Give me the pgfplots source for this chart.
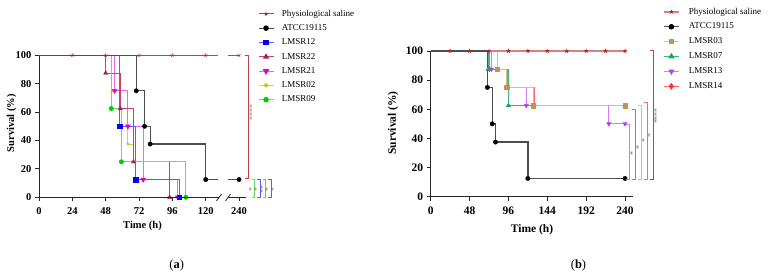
\documentclass[border=0pt]{standalone}
\usepackage{pgfplots}
\pgfplotsset{compat=1.18}
\usepackage{fontspec}
\setmainfont{Liberation Serif}
\definecolor{salAl}{HTML}{C44040}\definecolor{salAm}{HTML}{B22222}
\definecolor{atl}{HTML}{4D4D4D}\definecolor{atm}{HTML}{000000}
\definecolor{c12l}{HTML}{5C5CFF}\definecolor{c12m}{HTML}{0000FF}
\definecolor{c22l}{HTML}{C8407A}\definecolor{c22m}{HTML}{B0185A}
\definecolor{c21l}{HTML}{EE66EE}\definecolor{c21m}{HTML}{DD00DD}
\definecolor{c02l}{HTML}{D4D43C}\definecolor{c02m}{HTML}{C8C800}
\definecolor{c09l}{HTML}{66DD66}\definecolor{c09m}{HTML}{00CC00}
\definecolor{salBl}{HTML}{D88080}\definecolor{salBm}{HTML}{B22222}
\definecolor{c03l}{HTML}{E2B982}\definecolor{c03m}{HTML}{C89150}
\definecolor{c07l}{HTML}{3CB57C}\definecolor{c07m}{HTML}{1FA05F}
\definecolor{c13l}{HTML}{D07CFF}\definecolor{c13m}{HTML}{B040F0}
\definecolor{c14l}{HTML}{FF6666}\definecolor{c14m}{HTML}{FF3333}
\definecolor{stargray}{HTML}{707070}
\pgfplotsset{
  km/.style={scale only axis, clip=false, ymin=0, ymax=100, ytick={0,20,...,100},
    axis lines=left, axis line style={-, line width=0.9pt, black!85},
    tick align=outside, major tick length=4pt, tick style={line width=0.9pt, black!85},
    /pgf/number format/assume math mode=true,
    xticklabel style={yshift=-3pt},
    legend cell align=left,
    legend image code/.code={\draw[mark repeat=2,mark phase=2,##1] plot coordinates {(0pt,0pt) (7.5pt,0pt) (15pt,0pt)};},
  },
  cl/.style={const plot, no marks, line width=1.1pt, draw=#1, forget plot},
  mk/.style={only marks, color=#1, forget plot},
}
\begin{document}
\begin{tikzpicture}
\path[use as bounding box] (0,0) rectangle (774pt,-278pt);
% ---------------- panel (a)
\begin{axis}[km, at={(39pt,-197.3pt)}, anchor=south west, width=206.7pt, height=142pt,
  xmin=0, xmax=148.8, xtick={0,24,48,72,96,120,144}, xticklabels={0,24,48,72,96,120,240},
  x axis line style={draw=none},
  tick label style={font=\fontsize{10.5}{12}\selectfont\bfseries},
  legend style={at={(axis description cs:1.0595,1.3218)}, anchor=north west, draw=none, fill=none,
    inner sep=0pt, outer sep=0pt, row sep=5.8pt, font=\fontsize{9}{10}\selectfont,
    nodes={inner sep=0pt, text height=6.5pt, text depth=2pt},
    /tikz/every odd column/.append style={column sep=7.7pt}}]
\addlegendimage{salAl, line width=0.9pt, mark=star, mark options={salAm, mark size=2pt}}\addlegendentry{Physiological saline}
\addlegendimage{atl, line width=1.1pt, mark=*, mark options={draw=atm, fill=atm, mark size=2.2pt}}\addlegendentry{ATCC19115}
\addlegendimage{c12l, line width=1.1pt, mark=square*, mark options={draw=c12m, fill=c12m, mark size=2.2pt}}\addlegendentry{LMSR12}
\addlegendimage{c22l, line width=1.1pt, mark=triangle*, mark options={draw=c22m, fill=c22m, mark size=2.4pt}}\addlegendentry{LMSR22}
\addlegendimage{c21l, line width=1.1pt, mark=triangle*, mark options={draw=c21m, fill=c21m, mark size=2.8pt, rotate=180}}\addlegendentry{LMSR21}
\addlegendimage{c02l, line width=1.1pt, mark=star, mark options={c02m, mark size=2.2pt}}\addlegendentry{LMSR02}
\addlegendimage{c09l, line width=1.1pt, mark=*, mark options={draw=c09m, fill=c09m, mark size=2.2pt}}\addlegendentry{LMSR09}
% LMSR02
\addplot[cl=c02l] coordinates {(0,100) (52.5,75) (64,37.5) (68,25) (94,0)};
\addplot[mk=c02m, mark=star, mark size=2.2pt] coordinates {(52.5,75) (64,37.5) (68,25) (94,0)};
% LMSR21
\addplot[cl=c21l] coordinates {(0,100) (54.5,75) (64,50) (75,12.5) (100,0)};
\addplot[mk=c21m, mark=triangle*, mark size=2.8pt, mark options={rotate=180}] coordinates {(54.5,75) (64,50) (75,12.5) (100,0)};
% LMSR22
\addplot[cl=c22l] coordinates {(0,100) (48,87.5) (58.5,62.5) (68,25) (94,0)};
\addplot[mk=c22m, mark=triangle*, mark size=2.4pt] coordinates {(48,87.5) (58.5,62.5) (68,25) (94,0)};
% LMSR09
\addplot[cl=c09l] coordinates {(0,100) (52,62.5) (59.3,25) (105.7,0)};
\addplot[mk=c09m, mark=*, mark size=2.2pt] coordinates {(52,62.5) (59.3,25) (105.7,0)};
% LMSR12
\addplot[cl=c12l] coordinates {(0,100) (58,50) (69.5,12.5) (101,0)};
\addplot[mk=c12m, mark=square*, mark size=2.2pt] coordinates {(58,50) (69.5,12.5) (101,0)};
% saline
\addplot[salAl, line width=0.9pt, no marks, forget plot] coordinates {(0,100) (129.1,100)};
\addplot[salAl, line width=0.9pt, no marks, forget plot] coordinates {(136.3,100) (144,100)};
% ATCC
\addplot[cl=atl, line width=1.2pt] coordinates {(0,100) (70,75) (76,50) (80,37.5) (120,12.5) (129.1,12.5)};
\addplot[atl, line width=1.2pt, no marks, forget plot] coordinates {(136.3,12.5) (144,12.5)};
\addplot[mk=atm, mark=*, mark size=2.2pt] coordinates {(70,75) (76,50) (80,37.5) (120,12.5) (144,12.5)};
\addplot[mk=salAm, mark=star, mark size=2pt] coordinates {(24,100) (48,100) (72,100) (96,100) (120,100) (144,100)};
\end{axis}
% broken x axis (a)
\draw[line width=0.9pt, black!85] (39pt,-197.3pt) -- (219pt,-197.3pt);
\draw[line width=0.9pt, black!85] (228pt,-197.3pt) -- (245.7pt,-197.3pt);
\draw[line width=0.8pt, black!85] (216.5pt,-201pt) -- (221.5pt,-194pt);
\draw[line width=0.8pt, black!85] (225.5pt,-201pt) -- (230.5pt,-194pt);
% labels (a)
\node[rotate=90, font=\fontsize{10.5}{12}\selectfont\bfseries] at (11.7pt,-123.3pt) {Survival (\%)};
\node[font=\fontsize{10.5}{12}\selectfont\bfseries] at (142.5pt,-226pt) {Time (h)};
\node[font=\fontsize{12.5}{14}\selectfont] at (176.7pt,-265.5pt) {(\textbf{a})};
% brackets (a)
\draw[salAl, line width=0.8pt] (245pt,-55.3pt) -- (248.5pt,-55.3pt) -- (248.5pt,-178.5pt) -- (245pt,-178.5pt);
\node[rotate=90, text=stargray, font=\fontsize{8}{8}\selectfont, inner sep=0pt] at (252pt,-112pt) {****};
\draw[c09l, line width=0.8pt] (251.5pt,-179.5pt) -- (254.3pt,-179.5pt) -- (254.3pt,-197.5pt) -- (251.5pt,-197.5pt);
\draw[c12l, line width=0.8pt] (257.2pt,-179.5pt) -- (260pt,-179.5pt) -- (260pt,-197.5pt) -- (257.2pt,-197.5pt);
\draw[c21l, line width=0.8pt] (262.5pt,-179.5pt) -- (265.3pt,-179.5pt) -- (265.3pt,-197.5pt) -- (262.5pt,-197.5pt);
\draw[c22l, line width=0.8pt] (268.2pt,-179.5pt) -- (271pt,-179.5pt) -- (271pt,-197.5pt) -- (268.2pt,-197.5pt);
\foreach \sx in {251.5,256.8,267.8,273.5}{\node[rotate=90, text=stargray, font=\fontsize{8}{8}\selectfont, inner sep=0pt] at (\sx pt,-189pt) {*};}
\node[rotate=90, text=stargray, font=\fontsize{8}{8}\selectfont, inner sep=0pt] at (262.7pt,-189pt) {**};
% ---------------- panel (b)
\begin{axis}[km, at={(430.7pt,-196.7pt)}, anchor=south west, width=202pt, height=145.7pt,
  xmin=0, xmax=249.5, xtick={0,48,96,144,192,240},
  tick label style={font=\fontsize{11.5}{13}\selectfont\bfseries},
  legend style={at={(axis description cs:1.15,1.2979)}, anchor=north west, draw=none, fill=none,
    inner sep=0pt, outer sep=0pt, row sep=6.4pt, font=\fontsize{9}{10}\selectfont,
    nodes={inner sep=0pt, text height=6.5pt, text depth=2pt},
    /tikz/every odd column/.append style={column sep=9pt}}]
\addlegendimage{salBl, line width=1.8pt, mark=star, mark options={salBm, mark size=2pt, line width=0.8pt}}\addlegendentry{Physiological saline}
\addlegendimage{atl, line width=1.1pt, mark=*, mark options={draw=atm, fill=atm, mark size=2.2pt}}\addlegendentry{ATCC19115}
\addlegendimage{c03l, line width=1.1pt, mark=square*, mark options={draw=c03m, fill=c03m, mark size=2.2pt}}\addlegendentry{LMSR03}
\addlegendimage{c07l, line width=1.1pt, mark=triangle*, mark options={draw=c07m, fill=c07m, mark size=2.6pt}}\addlegendentry{LMSR07}
\addlegendimage{c13l, line width=1.1pt, mark=triangle*, mark options={draw=c13m, fill=c13m, mark size=2.4pt, rotate=180}}\addlegendentry{LMSR13}
\addlegendimage{c14l, line width=1.1pt, mark=diamond*, mark options={draw=c14m, fill=c14m, mark size=2.6pt}}\addlegendentry{LMSR14}
% LMSR14
\addplot[cl=c14l] coordinates {(0,100) (72.5,87.5) (95,75) (128,62.5) (240,62.5)};
\addplot[mk=c14m, mark=diamond*, mark size=2.6pt] coordinates {(72.5,87.5) (95,75) (128,62.5) (240,62.5)};
% LMSR13
\addplot[cl=c13l] coordinates {(0,100) (75,87.5) (94,75) (118,62.5) (220,50) (240,50)};
\addplot[mk=c13m, mark=triangle*, mark size=2.4pt, mark options={rotate=180}] coordinates {(75,87.5) (94,75) (118,62.5) (220,50) (240,50)};
% LMSR07
\addplot[cl=c07l] coordinates {(0,100) (71,87.5) (96,62.5) (240,62.5)};
\addplot[mk=c07m, mark=triangle*, mark size=2.6pt] coordinates {(71,87.5) (96,62.5) (240,62.5)};
% LMSR03
\addplot[cl=c03l] coordinates {(0,100) (82,87.5) (94,75) (126.5,62.5) (240,62.5)};
\addplot[mk=c03m, mark=square*, mark size=2.2pt] coordinates {(82,87.5) (94,75) (126.5,62.5) (240,62.5)};
% saline
\addplot[salBl, line width=1.8pt, no marks, forget plot] coordinates {(0,100) (240,100)};
% ATCC
\addplot[cl=atl, line width=1.3pt] coordinates {(0,100) (70,75) (76,50) (80,37.5) (120,12.5) (240,12.5)};
\addplot[mk=atm, mark=*, mark size=2.2pt] coordinates {(70,75) (76,50) (80,37.5) (120,12.5) (240,12.5)};
\addplot[mk=salBm, mark=star, mark size=2pt, mark options={line width=0.8pt}] coordinates {(24,100) (48,100) (72,100) (96,100) (120,100) (144,100) (168,100) (192,100) (216,100) (240,100)};
\end{axis}
% labels (b)
\node[rotate=90, font=\fontsize{11.5}{13}\selectfont\bfseries] at (393pt,-123pt) {Survival (\%)};
\node[font=\fontsize{11.5}{13}\selectfont\bfseries] at (532pt,-229.3pt) {Time (h)};
\node[font=\fontsize{12.5}{14}\selectfont] at (578.5pt,-265.5pt) {(\textbf{b})};
% brackets (b)
\draw[c13l, line width=0.8pt] (626pt,-123.9pt) -- (629.3pt,-123.9pt) -- (629.3pt,-179pt) -- (626pt,-179pt);
\draw[c07l, line width=0.8pt] (632.4pt,-109pt) -- (635.7pt,-109pt) -- (635.7pt,-179pt) -- (632.4pt,-179pt);
\draw[c03l, line width=0.8pt] (638.4pt,-105pt) -- (641.7pt,-105pt) -- (641.7pt,-179pt) -- (638.4pt,-179pt);
\draw[c14l, line width=0.8pt] (643.7pt,-102.3pt) -- (647pt,-102.3pt) -- (647pt,-179pt) -- (643.7pt,-179pt);
\draw[salAl, line width=0.8pt] (650pt,-50pt) -- (653.3pt,-50pt) -- (653.3pt,-179pt) -- (650pt,-179pt);
\node[rotate=90, text=stargray, font=\fontsize{8}{8}\selectfont, inner sep=0pt] at (632.7pt,-153pt) {*};
\node[rotate=90, text=stargray, font=\fontsize{8}{8}\selectfont, inner sep=0pt] at (638.7pt,-147.7pt) {*};
\node[rotate=90, text=stargray, font=\fontsize{8}{8}\selectfont, inner sep=0pt] at (644.4pt,-140pt) {*};
\node[rotate=90, text=stargray, font=\fontsize{8}{8}\selectfont, inner sep=0pt] at (650.3pt,-135.3pt) {*};
\node[rotate=90, text=stargray, font=\fontsize{8}{8}\selectfont, inner sep=0pt] at (656.7pt,-116pt) {****};
\end{tikzpicture}
\end{document}
